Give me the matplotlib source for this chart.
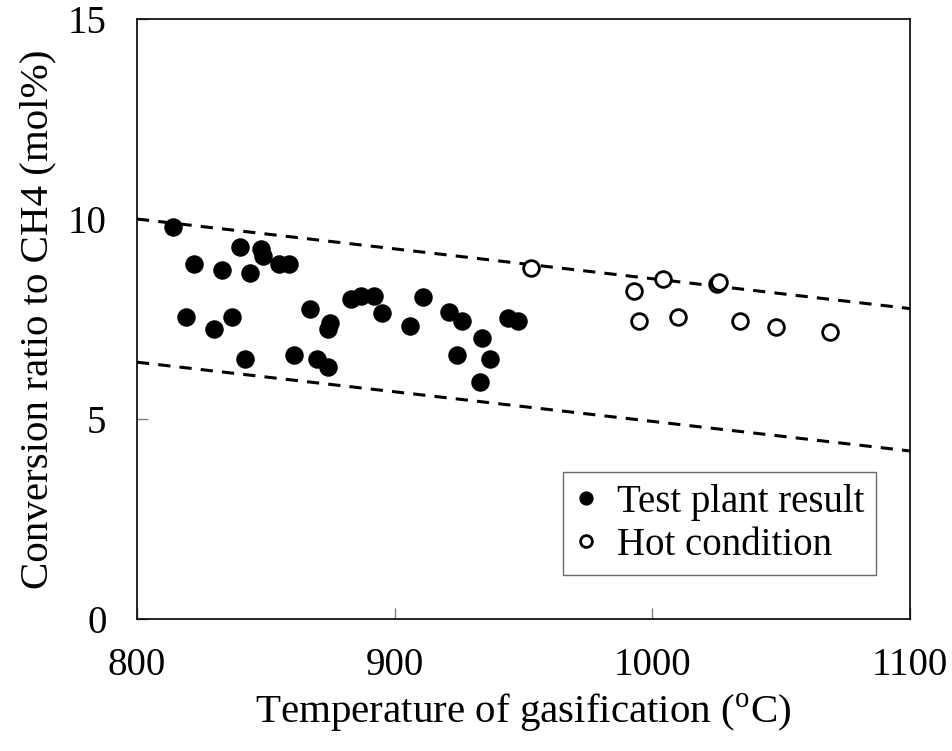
import matplotlib
matplotlib.use("Agg")
import matplotlib.pyplot as plt

# test plant results (filled markers)
test_temp = [814, 822, 819, 840, 848, 849, 855, 859, 833, 844, 830, 837, 842,
             867, 875, 874, 861, 870, 874, 883, 887, 892, 895, 906, 911, 921,
             926, 934, 924, 937, 933, 944, 948]
test_ratio = [9.81, 8.87, 7.54, 9.29, 9.24, 9.08, 8.87, 8.87, 8.73, 8.64, 7.24,
              7.54, 6.51, 7.76, 7.39, 7.25, 6.59, 6.50, 6.29, 7.99, 8.08, 8.08,
              7.64, 7.33, 8.06, 7.68, 7.46, 7.03, 6.60, 6.51, 5.93, 7.53, 7.45]

# hot condition (open markers)
hot_temp = [953, 993, 1004, 1025, 1026, 995, 1010, 1034, 1048, 1069]
hot_ratio = [8.78, 8.20, 8.49, 8.37, 8.42, 7.46, 7.54, 7.46, 7.31, 7.17]

# dashed envelope lines
band_temp = [800, 1100]
upper_line = [10.0, 7.76]
lower_line = [6.42, 4.20]

plt.rcParams['font.family'] = ['Liberation Serif', 'DejaVu Serif']
plt.rcParams['mathtext.fontset'] = 'custom'
plt.rcParams['mathtext.rm'] = 'Liberation Serif'

fig = plt.figure(figsize=(9.52, 7.51), dpi=100)
ax = fig.add_axes([0.1439, 0.1758, 0.8120, 0.7989])

ax.plot(band_temp, upper_line, color='black', linestyle=(0, (4, 3)), linewidth=2.2)
ax.plot(band_temp, lower_line, color='black', linestyle=(0, (4, 3)), linewidth=2.2)

ax.plot(test_temp, test_ratio, 'o', color='black', markersize=12.3,
        linestyle='none', label='Test plant result')
ax.plot(hot_temp, hot_ratio, 'o', markerfacecolor='white', markeredgecolor='black',
        markeredgewidth=2.0, markersize=11.3, linestyle='none', label='Hot condition')

ax.set_xlim(800, 1100)
ax.set_ylim(0, 15)
ax.set_xticks([800, 900, 1000, 1100])
ax.set_yticks([0, 5, 10, 15])
ax.tick_params(direction='in', length=8, width=1, color='gray', labelsize=28, pad=20)
ax.tick_params(axis='y', pad=22)

for spine in ax.spines.values():
    spine.set_linewidth(1.2)

ax.set_xlabel('Temperature of gasification ($^{\\rm o}$C)', fontsize=29.5, labelpad=6)
ax.set_ylabel('Conversion ratio to CH4 (mol%)', fontsize=29.5, labelpad=8)

leg = ax.legend(loc='lower right', bbox_to_anchor=(0.956, 0.073), fontsize=28,
                frameon=True, fancybox=False, handlelength=0.6, handletextpad=0.5,
                borderpad=0.3, labelspacing=0.15, borderaxespad=0, markerscale=0.75)
leg.get_frame().set_edgecolor('#444444')
leg.get_frame().set_linewidth(1.0)

fig.savefig('out.png', dpi=100)
